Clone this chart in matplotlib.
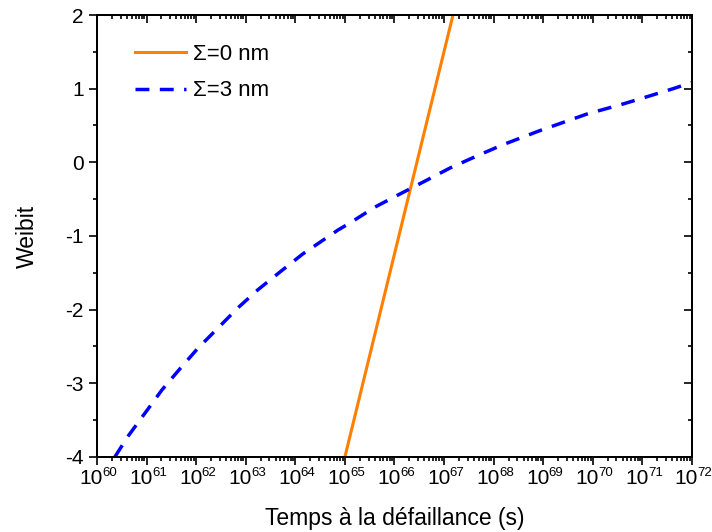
import numpy as np
import matplotlib
matplotlib.use("Agg")
import matplotlib.pyplot as plt
from matplotlib.ticker import LogLocator, NullFormatter, MultipleLocator

plt.rcParams['font.family'] = ['Liberation Sans', 'DejaVu Sans']
plt.rcParams['axes.unicode_minus'] = False

# Σ=0 nm : exposant de temps (log10 s) et Weibit
exp0 = [65.0, 66.31, 67.18]
weib0 = [-4.0, -0.39, 2.0]

# Σ=3 nm
exp3 = [60.36, 60.63, 60.97, 61.31, 61.67, 62.04, 62.44, 62.84, 63.24, 63.69,
        64.15, 64.86, 65.10, 65.61, 66.11, 66.62, 67.12, 67.66, 68.17, 68.93,
        69.90, 70.55, 71.09, 71.62, 72.0]
weib3 = [-4.0, -3.715, -3.403, -3.09, -2.805, -2.52, -2.25, -1.977, -1.733, -1.489,
         -1.244, -0.919, -0.824, -0.606, -0.43, -0.253, -0.077, 0.086, 0.235, 0.43,
         0.66, 0.78, 0.89, 1.0, 1.085]

decades = list(range(60, 73))

t0 = 10.0 ** np.array(exp0)
t3 = 10.0 ** np.array(exp3)

xlim = (1e60, 1e72)
ylim = (-4, 2)


def log_ticks(axis):
    axis.set_major_locator(LogLocator(base=10, numticks=20))
    axis.set_minor_locator(LogLocator(base=10, subs=np.arange(2, 10), numticks=200))
    axis.set_major_formatter(NullFormatter())
    axis.set_minor_formatter(NullFormatter())


fig = plt.figure(figsize=(7.12, 5.32), dpi=100)
ax = fig.add_axes([0.1362, 0.141, 0.8357, 0.8308])

ax.plot(t0, weib0, '-', color='#ff7f00', lw=2.2, label='Σ=0 nm')
ax.plot(t3, weib3, '--', color='#0000ff', lw=2.5, dashes=(4.0, 3.0), label='Σ=3 nm')

ax.set_xscale('log')
ax.set_xlim(*xlim)
ax.set_ylim(*ylim)
log_ticks(ax.xaxis)
ax.yaxis.set_major_locator(MultipleLocator(1))
ax.yaxis.set_minor_locator(MultipleLocator(0.5))

ax.tick_params(which='both', direction='out', top=False, right=False,
               labelsize=15, width=1.2, pad=4)
ax.tick_params(which='major', length=5.5)
ax.tick_params(which='minor', length=3)

# étiquettes 10^n avec petit exposant (style Origin)
for d in decades:
    ax.annotate('10', xy=(10.0 ** d, 0), xycoords=('data', 'axes fraction'),
                xytext=(4.5, -8.5), textcoords='offset points', ha='right', va='top',
                fontsize=15, annotation_clip=False)
    ax.annotate(str(d), xy=(10.0 ** d, 0), xycoords=('data', 'axes fraction'),
                xytext=(3.9, -7.5), textcoords='offset points', ha='left', va='top',
                fontsize=9.5, annotation_clip=False)

# graduations internes en haut et à droite
axt = ax.twiny()
axt.set_xscale('log')
axt.set_xlim(*xlim)
log_ticks(axt.xaxis)
axt.tick_params(which='both', direction='in', labeltop=False, width=1.2)
axt.tick_params(which='major', length=5.5)
axt.tick_params(which='minor', length=3)

axr = ax.twinx()
axr.set_ylim(*ylim)
axr.yaxis.set_major_locator(MultipleLocator(1))
axr.yaxis.set_minor_locator(MultipleLocator(0.5))
axr.tick_params(which='both', direction='in', labelright=False, width=1.2)
axr.tick_params(which='major', length=5.5)
axr.tick_params(which='minor', length=3)

for a in (ax, axt, axr):
    for s in a.spines.values():
        s.set_linewidth(1.3)

ax.set_xlabel('Temps à la défaillance (s)', fontsize=16.5, labelpad=26.5)
ax.set_ylabel('Weibit', fontsize=16.5, labelpad=19)

ax.legend(loc='upper left', frameon=False, fontsize=16, handlelength=2.3,
          bbox_to_anchor=(0.064, 0.934), borderaxespad=0, borderpad=0,
          labelspacing=0.68, handletextpad=0.3)

fig.savefig('out.png', dpi=100)
